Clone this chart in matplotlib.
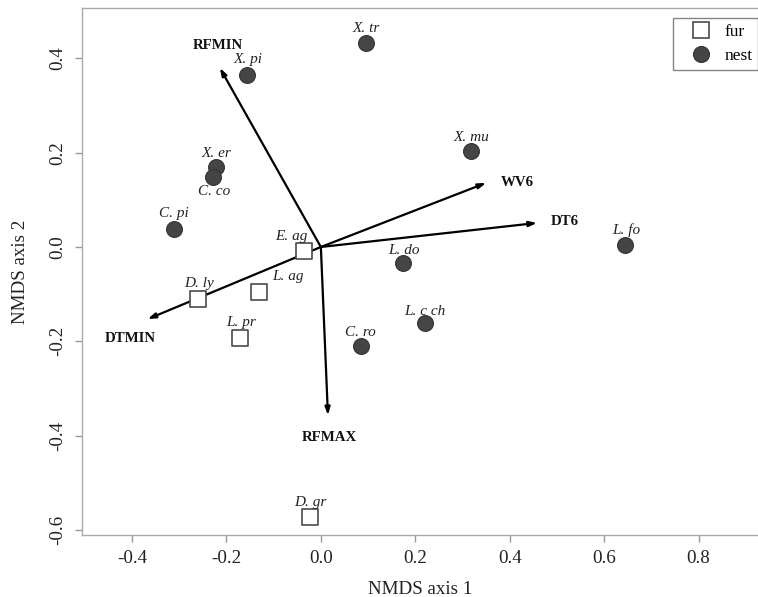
import matplotlib
matplotlib.use('Agg')
import matplotlib.pyplot as plt
from matplotlib.lines import Line2D

plt.rcParams['font.family'] = 'Liberation Serif'

# site scores: nest species (filled circles)
nest_names = ['X. tr', 'X. pi', 'X. mu', 'X. er', 'C. co', 'C. pi', 'L. do',
              'L. fo', 'C. ro', 'L. c ch']
nest_x = [0.095, -0.157, 0.318, -0.223, -0.228, -0.311, 0.174, 0.645, 0.085, 0.221]
nest_y = [0.433, 0.365, 0.204, 0.170, 0.149, 0.038, -0.034, 0.004, -0.210, -0.162]
nest_off = [(0, 14), (1, 15), (0, 13), (1, 13), (1, -15), (0, 16), (1, 13),
            (1, 15), (-1, 13), (0, 12)]

# fur species (open squares)
fur_names = ['E. ag', 'D. ly', 'L. ag', 'L. pr', 'D. gr']
fur_x = [-0.036, -0.261, -0.131, -0.172, -0.023]
fur_y = [-0.008, -0.110, -0.096, -0.193, -0.573]
fur_off = [(-12, 14), (1, 15), (29, 16), (1, 15), (0, 15)]

# environmental vectors
vec_names = ['RFMIN', 'WV6', 'DT6', 'DTMIN', 'RFMAX']
vec_x = [-0.214, 0.350, 0.458, -0.367, 0.015]
vec_y = [0.380, 0.136, 0.051, -0.153, -0.357]
vec_off = [(-2, 22, 'center'), (15, 0, 'left'), (14, 1, 'left'),
           (-17, -19, 'center'), (1, -22, 'center')]

fig = plt.figure(figsize=(7.58, 5.97), dpi=100)
ax = fig.add_axes([82 / 758, 62 / 597, 676 / 758, 527 / 597])

ax.scatter(fur_x, fur_y, s=120, marker='s', facecolor='white', edgecolor='#4a4a4a',
           linewidth=1.2, zorder=3)
ax.scatter(nest_x, nest_y, s=130, marker='o', facecolor='#454545', edgecolor='#333333',
           linewidth=0.8, zorder=3)

for n, x, y, o in zip(nest_names + fur_names, nest_x + fur_x, nest_y + fur_y,
                      nest_off + fur_off):
    ax.annotate(n, (x, y), xytext=o, textcoords='offset pixels', ha='center',
                va='center', fontsize=11, style='italic', color='#222222', zorder=4)

for n, x, y, o in zip(vec_names, vec_x, vec_y, vec_off):
    ax.annotate('', xy=(x, y), xytext=(0, 0),
                arrowprops=dict(arrowstyle='-|>,head_length=0.45,head_width=0.15',
                                lw=1.6, color='black', shrinkA=0, shrinkB=0), zorder=2)
    ax.annotate(n, (x, y), xytext=o[:2], textcoords='offset pixels', ha=o[2],
                va='center', fontsize=10.7, fontweight='bold', color='#111111')

ax.set_xlim(-0.506, 0.926)
ax.set_ylim(-0.611, 0.507)
ax.set_xticks([-0.4, -0.2, 0.0, 0.2, 0.4, 0.6, 0.8])
ax.set_yticks([-0.6, -0.4, -0.2, 0.0, 0.2, 0.4])
ax.set_xticklabels(['-0.4', '-0.2', '0.0', '0.2', '0.4', '0.6', '0.8'])
ax.set_yticklabels(['-0.6', '-0.4', '-0.2', '0.0', '0.2', '0.4'], rotation=90, va='center')
ax.tick_params(colors='#999999', labelcolor='#222222', labelsize=13.7, length=5, width=1)
ax.tick_params(axis='x', pad=6)
ax.tick_params(axis='y', pad=6)
for s in ['left', 'bottom', 'top']:
    ax.spines[s].set_color('#aaaaaa')
    ax.spines[s].set_linewidth(1)
ax.spines['right'].set_visible(False)

ax.set_xlabel('NMDS axis 1', fontsize=13.7, color='#222222', labelpad=10)
ax.set_ylabel('NMDS axis 2', fontsize=13.7, color='#222222', labelpad=15)

handles = [Line2D([], [], ls='', marker='s', ms=11, mfc='white', mec='#4a4a4a', mew=1.2),
           Line2D([], [], ls='', marker='o', ms=11.5, mfc='#454545', mec='#333333', mew=0.8)]
leg = ax.legend(handles, ['fur', 'nest'], loc='upper left',
                bbox_to_anchor=(673 / 758, 1 - 18 / 597), bbox_transform=fig.transFigure,
                fontsize=12.5, frameon=True, fancybox=False, borderpad=0.35,
                handletextpad=0.1, labelspacing=0.45, handlelength=2.5, borderaxespad=0)
leg.get_frame().set_edgecolor('#666666')
leg.get_frame().set_linewidth(1)

fig.savefig('out.png', dpi=100)
